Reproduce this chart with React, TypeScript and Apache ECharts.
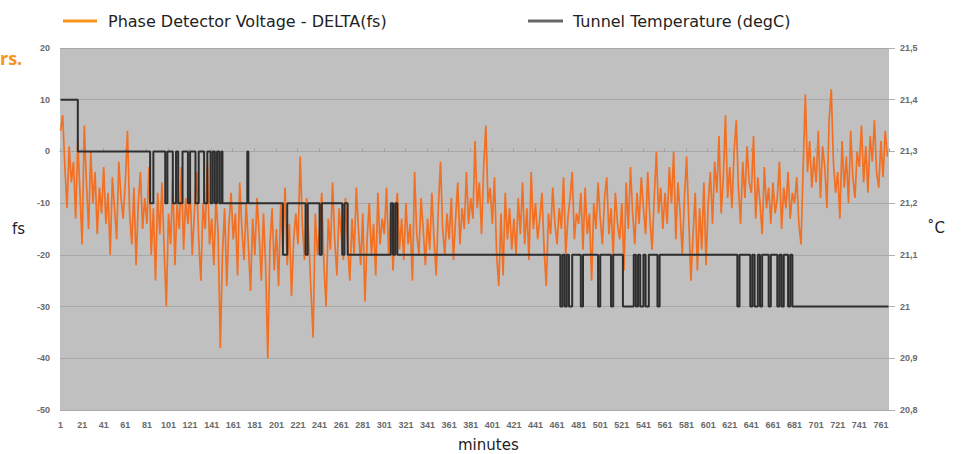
import React, { useEffect, useRef } from 'react';
import * as echarts from 'echarts';

const MINUTE_COUNT = 768;
const minutes: string[] = Array.from({ length: MINUTE_COUNT }, (_, i) => String(i + 1));

const PHASE_NAME = 'Phase Detector Voltage - DELTA(fs)';
const TEMP_NAME = 'Tunnel Temperature (degC)';

// phase detector voltage (fs), read every 2 minutes
const SAMPLE_STEP = 2;
const phaseDelta: number[] = [
  4, 7, -3, -11, 1, -6, -2, -13, 2, -8,
  -18, 5, -6, -15, 0, -10, -4, -16, -7, -12,
  -3, -14, -8, -20, -5, -11, -17, -2, -9, -13,
  -6, 4, -12, -18, -7, -22, -10, -4, -15, -9,
  -14, -3, -20, -11, -25, -8, -16, -6, -19, -30,
  -12, -18, -5, -22, -10, -15, -3, -19, -9, -14,
  -7, -20, -12, -4, -17, -25, -10, -15, -2, -18,
  -13, -22, -9, -16, -38, -20, -11, -26, -14, -8,
  -17, -12, -24, -6, -15, -21, -10, -18, -27, -13,
  -20, -9, -16, -25, -12, -22, -40, -18, -11, -23,
  -15, -26, -10, -19, -7, -22, -14, -28, -17, -12,
  -18, -1, -14, -21, -9, -17, -27, -36, -12, -20,
  -15, -8, -22, -30, -13, -19, -6, -17, -24, -11,
  -16, -21, -9, -18, -25, -13, -20, -7, -15, -22,
  -12, -29, -17, -10, -20, -14, -24, -8, -18, -13,
  -16, -7, -20, -11, -23, -14, -8, -19, -13, -21,
  -10, -18, -14, -25, -4, -16, -20, -9, -15, -22,
  -13, -19, -8, -17, -24, -11, -2, -15, -20, -12,
  -17, -9, -21, -13, -6, -18, -11, -15, -4, -14,
  -9, -13, 2, -11, -6, -16, -3, 5, -10, -7,
  -14, -5, -20, -26, -12, -24, -8, -17, -11, -19,
  -13, -20, -9, -16, -6, -18, -11, -21, -4, -15,
  -10, -17, -13, -8, -19, -26, -12, -16, -7, -14,
  -18, -11, -15, -5, -20, -13, -9, -4, -17, -12,
  -14, -8, -19, -7, -16, -12, -25, -10, -15, -6,
  -13, -18, -9, -5, -16, -11, -20, -8, -14, -17,
  -10, -23, -6, -15, -3, -12, -18, -8, -14, -5,
  -11, -16, -4, -13, -19, -9, 0, -12, -7, -15,
  -8, -14, -3, -10, 0, -17, -6, -12, -20, -9,
  -1, -13, -25, -16, -8, -23, -11, -19, -6, -22,
  -10, -4, -14, -2, -8, 3, -12, -5, 7, -9,
  -3, -11, 0, 6, -7, -14, -2, -9, 1, -6,
  -8, 3, -13, -5, -10, -16, -3, -11, -7, -14,
  -6, -12, -9, -2, -15, -7, -11, -4, -13, -8,
  -10, -5, -14, -18, -3, 11, -4, 2, -7, -1,
  -6, 4, -9, 1, -3, -11, 6, 12, -2, -8,
  -4, -13, 2, -7, -1, -10, 4, -5, -9, 0,
  -3, 5, -6, 1, -8, 3, -2, 6, -4, -7,
  2, -5, 4, -1,
];

// tunnel temperature (degC): [minute index where the value starts, value]
const tempSteps: [number, number][] = [
  [0, 21.4], [16, 21.3],
  [83, 21.2], [86, 21.3], [97, 21.2], [99, 21.3], [104, 21.2], [107, 21.3],
  [109, 21.2], [113, 21.3], [118, 21.2], [120, 21.3], [125, 21.2], [128, 21.3],
  [133, 21.2], [136, 21.3], [139, 21.2], [141, 21.3], [143, 21.2], [145, 21.3],
  [147, 21.2], [149, 21.3], [150, 21.2],
  [173, 21.3], [174, 21.2],
  [206, 21.1], [210, 21.2], [227, 21.1], [229, 21.2], [240, 21.1], [242, 21.2],
  [261, 21.1], [263, 21.2], [266, 21.1],
  [306, 21.2], [308, 21.1], [310, 21.2], [312, 21.1],
  [463, 21.0], [465, 21.1], [467, 21.0], [469, 21.1], [471, 21.0], [474, 21.1],
  [482, 21.0], [484, 21.1], [498, 21.0], [500, 21.1], [510, 21.0], [512, 21.1],
  [521, 21.0], [531, 21.1], [533, 21.0], [535, 21.1], [537, 21.0], [540, 21.1],
  [542, 21.0], [545, 21.1], [553, 21.0], [555, 21.1],
  [627, 21.0], [629, 21.1],
  [639, 21.0], [641, 21.1], [643, 21.0], [646, 21.1], [648, 21.0], [650, 21.1],
  [656, 21.0], [658, 21.1],
  [664, 21.0], [666, 21.1], [668, 21.0], [670, 21.1],
  [674, 21.0], [676, 21.1], [678, 21.0],
  [767, 21.0],
];

const TICK_FONT = { fontSize: 9, fontWeight: 'bold' as const, color: '#6a6a6a', fontFamily: 'Liberation Sans, Arial, sans-serif' };
const TEXT_FONT = 'DejaVu Sans, sans-serif';

export default function App() {
  const ref = useRef<HTMLDivElement>(null);

  useEffect(() => {
    if (!ref.current) return;
    const chart = echarts.init(ref.current, undefined, { renderer: 'svg' });
    chart.setOption({
      animation: false,
      backgroundColor: '#ffffff',
      legend: [
        {
          data: [{ name: PHASE_NAME, itemStyle: { color: '#f7941d' } }],
          left: 58, top: 8, icon: 'rect', itemWidth: 34, itemHeight: 3,
          textStyle: { fontSize: 16, color: '#222', fontFamily: TEXT_FONT, padding: [0, 0, 0, 6] },
        },
        {
          data: [{ name: TEMP_NAME, itemStyle: { color: '#666666' } }],
          left: 523, top: 8, icon: 'rect', itemWidth: 35, itemHeight: 3,
          textStyle: { fontSize: 16, color: '#222', fontFamily: TEXT_FONT, padding: [0, 0, 0, 5] },
        },
      ],
      grid: {
        left: 60, right: 73, top: 48, bottom: 44,
        show: true, backgroundColor: '#c0c0c0', borderWidth: 0,
      },
      xAxis: {
        type: 'category',
        data: minutes,
        boundaryGap: true,
        axisLine: { show: true, lineStyle: { color: '#a8a8a8', width: 1 } },
        axisTick: { show: true, interval: 19, length: 3, inside: true, lineStyle: { color: '#a0a0a0' } },
        axisLabel: { ...TICK_FONT, interval: 19, margin: 10 },
        splitLine: { show: false },
      },
      yAxis: [
        {
          type: 'value', min: -50, max: 20, interval: 10,
          axisLine: { show: false }, axisTick: { show: false },
          axisLabel: { ...TICK_FONT, margin: 10 },
          splitLine: { show: true, lineStyle: { color: '#a9a9a9', width: 1 } },
        },
        {
          type: 'value', min: 20.8, max: 21.5, interval: 0.1, position: 'right',
          axisLine: { show: false },
          axisTick: { show: true, length: 6, lineStyle: { color: '#b0b0b0' } },
          axisLabel: {
            ...TICK_FONT, margin: 11,
            formatter: (v: number) => String(Math.round(v * 10) / 10).replace('.', ','),
          },
          splitLine: { show: false },
        },
      ],
      graphic: [
        { type: 'text', left: 0, top: 49, style: { text: 'rs.', fill: '#f7941d', font: 'bold 18px Open Sans, sans-serif' } },
        { type: 'text', left: 12, top: 221, style: { text: 'fs', fill: '#222', font: '15px DejaVu Sans, sans-serif' } },
        { type: 'text', left: 927, top: 220, style: { text: '˚C', fill: '#222', font: '15px DejaVu Sans, sans-serif' } },
        { type: 'text', left: 458, top: 437, style: { text: 'minutes', fill: '#222', font: '15px DejaVu Sans, sans-serif' } },
      ],
      series: [
        {
          name: PHASE_NAME,
          type: 'line',
          yAxisIndex: 0,
          data: phaseDelta.map((v, i) => [i * SAMPLE_STEP, v]),
          symbol: 'none',
          itemStyle: { color: '#f7941d' },
          lineStyle: { color: '#f36f21', width: 1.7 },
          z: 2,
        },
        {
          name: TEMP_NAME,
          type: 'line',
          yAxisIndex: 1,
          step: 'end',
          data: tempSteps,
          symbol: 'none',
          itemStyle: { color: '#666666' },
          lineStyle: { color: '#2e2e2e', width: 2 },
          z: 3,
        },
      ],
    });
    return () => chart.dispose();
  }, []);

  return <div ref={ref} style={{ position: 'fixed', left: 0, top: 0, width: 962, height: 454 }} />;
}
